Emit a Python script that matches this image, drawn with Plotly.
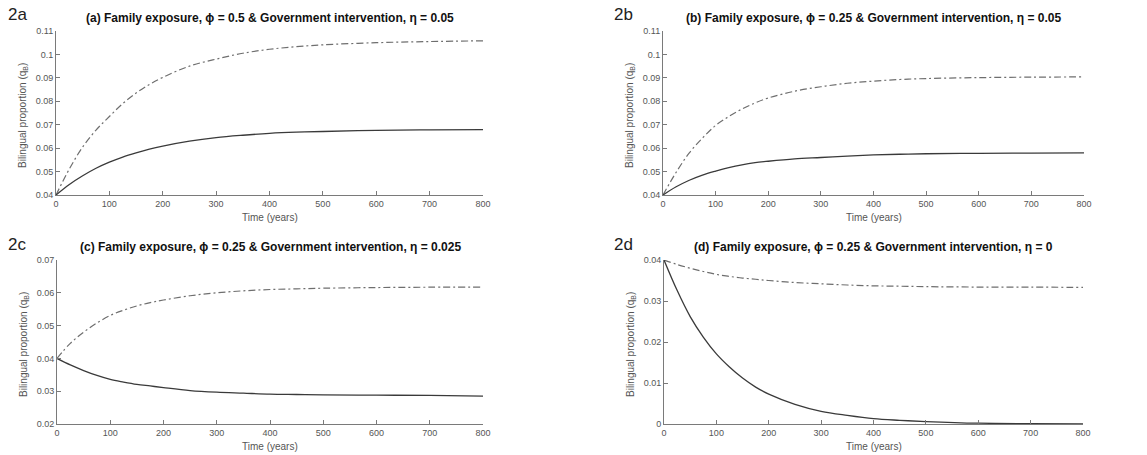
import plotly.graph_objects as go

# ---- data ----
t = [0, 25, 50, 75, 100, 125, 150, 175, 200, 250, 300, 350, 400, 450, 500, 600, 700, 800]

a_dash = [0.040, 0.0511, 0.0605, 0.0677, 0.0735, 0.0790, 0.0835, 0.0872, 0.0902, 0.0950, 0.0980, 0.1005, 0.1022, 0.1033, 0.1041, 0.1050, 0.1055, 0.1058]
a_solid = [0.040, 0.0445, 0.0482, 0.0514, 0.0540, 0.0562, 0.0580, 0.0596, 0.0609, 0.0630, 0.0645, 0.0655, 0.0663, 0.0668, 0.0671, 0.0676, 0.0678, 0.0679]

b_dash = [0.040, 0.0497, 0.0580, 0.0643, 0.0697, 0.0735, 0.0767, 0.0793, 0.0814, 0.0843, 0.0862, 0.0877, 0.0886, 0.0893, 0.0897, 0.0901, 0.0903, 0.0904]
b_solid = [0.040, 0.0435, 0.0463, 0.0485, 0.0502, 0.0517, 0.0529, 0.0538, 0.0544, 0.0554, 0.0560, 0.0566, 0.0571, 0.0574, 0.0576, 0.0578, 0.0579, 0.0580]

c_dash = [0.040, 0.0446, 0.0480, 0.0508, 0.0531, 0.0547, 0.0560, 0.0570, 0.0578, 0.0591, 0.0600, 0.0606, 0.0610, 0.0612, 0.0614, 0.0616, 0.0617, 0.0617]
c_solid = [0.040, 0.0380, 0.0363, 0.0348, 0.0336, 0.0328, 0.0321, 0.0316, 0.0311, 0.0302, 0.0297, 0.0294, 0.0291, 0.0290, 0.0289, 0.0288, 0.0287, 0.0285]

d_dash = [0.040, 0.0389, 0.0380, 0.0372, 0.0365, 0.0360, 0.0356, 0.0353, 0.0350, 0.0345, 0.0342, 0.0339, 0.0337, 0.0336, 0.0335, 0.0334, 0.0334, 0.0333]
d_solid = [0.040, 0.0326, 0.0262, 0.0212, 0.0171, 0.0139, 0.0112, 0.0090, 0.0073, 0.0048, 0.0031, 0.0021, 0.0013, 0.0009, 0.0006, 0.0002, 0.0001, 0.00005]

titles = [
    "(a) Family exposure, \u03d5 = 0.5 & Government intervention, \u03b7 = 0.05",
    "(b) Family exposure, \u03d5 = 0.25 & Government intervention, \u03b7 = 0.05",
    "(c) Family exposure, \u03d5 = 0.25 & Government intervention, \u03b7 = 0.025",
    "(d) Family exposure, \u03d5 = 0.25 & Government intervention, \u03b7 = 0",
]
panel_labels = ["2a", "2b", "2c", "2d"]

ytick_ab = [0.04, 0.05, 0.06, 0.07, 0.08, 0.09, 0.1, 0.11]
ytick_ab_txt = ["0.04", "0.05", "0.06", "0.07", "0.08", "0.09", "0.1", "0.11"]
ytick_c = [0.02, 0.03, 0.04, 0.05, 0.06, 0.07]
ytick_c_txt = ["0.02", "0.03", "0.04", "0.05", "0.06", "0.07"]
ytick_d = [0, 0.01, 0.02, 0.03, 0.04]
ytick_d_txt = ["0", "0.01", "0.02", "0.03", "0.04"]
xticks = [0, 100, 200, 300, 400, 500, 600, 700, 800]

# ---- layout geometry ----
W, H = 1147, 455
boxes = [  # left, right, top, bottom in px
    (56, 483, 31, 195),
    (663, 1084, 31, 195),
    (57, 483, 260, 424),
    (664, 1083, 260, 424),
]
yranges = [(0.04, 0.11), (0.04, 0.11), (0.02, 0.07), (0, 0.04)]
yticks = [(ytick_ab, ytick_ab_txt), (ytick_ab, ytick_ab_txt), (ytick_c, ytick_c_txt), (ytick_d, ytick_d_txt)]
series = [(a_solid, a_dash), (b_solid, b_dash), (c_solid, c_dash), (d_solid, d_dash)]

SOLID = "#3a3a3a"
DASH = "#6e6e6e"
AX = "#7a7a7a"
TXT = "#555555"
FONT = "Liberation Sans, Arial, sans-serif"

fig = go.Figure()
annotations = []
for i in range(4):
    l, r, tp, bt = boxes[i]
    xa = "x" if i == 0 else f"x{i+1}"
    ya = "y" if i == 0 else f"y{i+1}"
    solid, dash = series[i]
    fig.add_trace(go.Scatter(x=t, y=dash, mode="lines", line=dict(color=DASH, width=1.2, dash="7px,3px,2px,3px", shape="spline"),
                             xaxis=xa, yaxis=ya, showlegend=False))
    fig.add_trace(go.Scatter(x=t, y=solid, mode="lines", line=dict(color=SOLID, width=1.3, shape="spline"),
                             xaxis=xa, yaxis=ya, showlegend=False))
    xkey = "xaxis" if i == 0 else f"xaxis{i+1}"
    ykey = "yaxis" if i == 0 else f"yaxis{i+1}"
    fig.update_layout({
        xkey: dict(domain=[l / W, r / W], anchor=ya, range=[0, 800], tickvals=xticks,
                   ticks="inside", ticklen=4, tickcolor=AX, showline=True, linecolor=AX, linewidth=1,
                   showgrid=False, zeroline=False, tickfont=dict(family=FONT, size=9, color=TXT),
                   automargin=False, fixedrange=True),
        ykey: dict(domain=[1 - bt / H, 1 - tp / H], anchor=xa, range=list(yranges[i]),
                   tickvals=yticks[i][0], ticktext=yticks[i][1],
                   ticks="inside", ticklen=4, tickcolor=AX, showline=True, linecolor=AX, linewidth=1,
                   showgrid=False, zeroline=False, tickfont=dict(family=FONT, size=9, color=TXT),
                   automargin=False, fixedrange=True),
    })
    cx = (l + r) / 2
    # panel title
    annotations.append(dict(text="<b>" + titles[i] + "</b>", x=cx / W, y=1 - (tp - 13) / H, xref="paper", yref="paper",
                            xanchor="center", yanchor="middle", showarrow=False,
                            font=dict(family=FONT, size=12, color="#111111")))
    # panel label
    lx = 6 if i % 2 == 0 else 612
    annotations.append(dict(text=panel_labels[i], x=lx / W, y=1 - (tp - 16) / H, xref="paper", yref="paper",
                            xanchor="left", yanchor="middle", showarrow=False,
                            font=dict(family=FONT, size=17, color="#222222")))
    # x axis title
    annotations.append(dict(text="Time (years)", x=cx / W, y=1 - (bt + 22) / H, xref="paper", yref="paper",
                            xanchor="center", yanchor="middle", showarrow=False,
                            font=dict(family=FONT, size=10, color=TXT)))
    # y axis title
    annotations.append(dict(text="Bilingual proportion (q<sub>B</sub>)", x=(l - 33) / W, y=1 - ((tp + bt) / 2 + 3) / H,
                            xref="paper", yref="paper", xanchor="center", yanchor="middle", textangle=-90,
                            showarrow=False, font=dict(family=FONT, size=10, color=TXT)))

fig.update_layout(width=W, height=H, margin=dict(l=0, r=0, t=0, b=0), paper_bgcolor="white",
                  plot_bgcolor="white", annotations=annotations, showlegend=False)

fig.write_html("out.html", config={"displayModeBar": False},
               post_script="document.body.style.margin='0';document.body.style.padding='0';")
